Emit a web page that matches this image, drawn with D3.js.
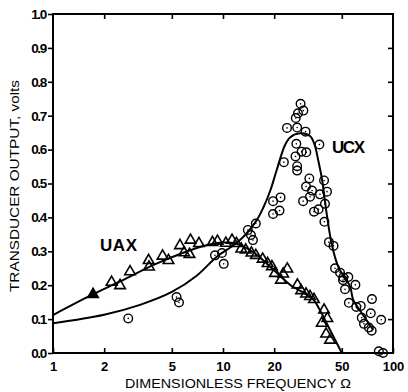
<!DOCTYPE html>
<html><head><meta charset="utf-8">
<script src="https://cdn.jsdelivr.net/npm/d3@7"></script>
<style>body{margin:0;background:#fff}svg{display:block}</style>
</head><body>
<script>
// ---- data ----
const xTicks = [1, 2, 5, 10, 20, 50, 100];
const xTickLabels = ["1", "2", "5", "10", "20", "50", "100"];
const yTicks = [0, 0.1, 0.2, 0.3, 0.4, 0.5, 0.6, 0.7, 0.8, 0.9, 1.0];
const yTickLabels = ["0.0","0.1","0.2","0.3","0.4","0.5","0.6","0.7","0.8","0.9","1.0"];

// UAX measured (triangles)
const uaxFilledOmega = [1.72];
const uaxFilledV = [0.173];
const uaxOmega = [2.21,2.48,2.84,3.65,3.67,4.41,4.78,5.58,5.90,6.35,6.44,7.22,8.67,9.28,10.4,11.3,12.0,12.8,13.6,14.7,15.6,17.1,18.3,19.4,20.2,21.9,23.9,22.6,27.4,28.8,30.8,32.5,34.3,39.3,38.1,41.1,40.4,42.6];
const uaxV = [0.209,0.199,0.240,0.273,0.254,0.286,0.273,0.317,0.296,0.291,0.333,0.323,0.326,0.330,0.324,0.333,0.323,0.307,0.304,0.295,0.288,0.277,0.264,0.255,0.235,0.215,0.248,0.233,0.201,0.184,0.174,0.167,0.158,0.127,0.088,0.102,0.056,0.038];

// UCX measured (circles)
const ucxOmega = [2.77,5.33,5.51,8.97,9.86,10.1,14.0,14.6,15.0,15.6,19.7,21.8,19.7,21.5,22.8,23.8,26.8,27.6,28.6,29.7,27.3,30.6,27.0,29.0,30.9,26.7,27.3,27.3,36.9,32.2,30.8,39.3,33.4,37.2,40.9,32.5,29.6,39.8,34.3,36.5,39.5,42.0,44.7,45.6,48.8,51.0,54.6,50.8,60.1,52.2,55.0,60.8,64.6,75.2,74.0,85.2,65.5,67.5,72.1,74.9,82.5,87.4];
const ucxV = [0.102,0.165,0.149,0.288,0.295,0.263,0.363,0.348,0.333,0.382,0.448,0.459,0.410,0.420,0.563,0.664,0.693,0.707,0.735,0.715,0.665,0.653,0.617,0.594,0.592,0.580,0.551,0.538,0.615,0.515,0.491,0.509,0.479,0.468,0.476,0.461,0.448,0.440,0.417,0.424,0.387,0.327,0.316,0.250,0.237,0.223,0.224,0.215,0.201,0.188,0.148,0.136,0.139,0.159,0.117,0.098,0.104,0.086,0.075,0.066,0.005,0.0];

// fitted curves
const uaxCurveOmega = [1,1.7,2.5,4,6,8,10,12,15,18,21.6,25,30,34,37,40.7,45,50];
const uaxCurveV = [0.112,0.172,0.212,0.262,0.298,0.318,0.326,0.322,0.298,0.265,0.228,0.2,0.177,0.158,0.128,0.088,0.045,0];
const ucxCurveOmega = [1,2,3.25,5,7,9.2,11.7,13.5,15.8,17.3,19,20.7,23.1,24.8,28.4,32.5,34.6,36.3,38.3,40.7,43.5,47.6,55.9,58.4,65,76.5];
const ucxCurveV = [0.088,0.113,0.142,0.18,0.228,0.284,0.32,0.348,0.392,0.43,0.48,0.54,0.612,0.636,0.648,0.64,0.614,0.569,0.51,0.412,0.324,0.255,0.196,0.156,0.12,0.068];

// ---- drawing ----
const W = 408, H = 392;
const svg = d3.select("body").append("svg").attr("width", W).attr("height", H);
const x = d3.scaleLog().domain([1, 100]).range([53, 393]);
const y = d3.scaleLinear().domain([0, 1]).range([353, 14]);
const font = "'Liberation Sans', Arial, sans-serif";

// frame
svg.append("rect").attr("x", x(1)).attr("y", y(1)).attr("width", x(100) - x(1)).attr("height", y(0) - y(1))
  .attr("fill", "none").attr("stroke", "#000").attr("stroke-width", 2);

// axes
const gBottom = svg.append("g").attr("transform", `translate(0,${y(0)})`)
  .call(d3.axisBottom(x).tickValues(xTicks).tickSize(-5).tickPadding(9).tickFormat((d, i) => xTickLabels[i]));
const gTop = svg.append("g").attr("transform", `translate(0,${y(1)})`)
  .call(d3.axisTop(x).tickValues(xTicks.slice(1, -1)).tickSize(-5).tickFormat(""));
const gLeft = svg.append("g").attr("transform", `translate(${x(1)},0)`)
  .call(d3.axisLeft(y).tickValues(yTicks).tickSize(5).tickPadding(2).tickFormat((d, i) => yTickLabels[i]));
const gRight = svg.append("g").attr("transform", `translate(${x(100)},0)`)
  .call(d3.axisRight(y).tickValues(yTicks.slice(1, -1)).tickSize(-5).tickFormat(""));
[gBottom, gTop, gLeft, gRight].forEach(g => {
  g.select(".domain").remove();
  g.selectAll("line").attr("stroke", "#000").attr("stroke-width", 1.6);
  g.selectAll("text").attr("fill", "#000").attr("font-family", font);
});
gBottom.selectAll("text").attr("font-size", 13).attr("font-weight", "bold");
gLeft.selectAll("text").attr("font-size", 13.5).attr("font-weight", "bold").attr("letter-spacing", -1.3);

// curves
const line = d3.line().x(d => x(d[0])).y(d => y(d[1])).curve(d3.curveCatmullRom.alpha(0.5));
svg.append("path").datum(uaxCurveOmega.map((o, i) => [o, uaxCurveV[i]]))
  .attr("d", line).attr("fill", "none").attr("stroke", "#000").attr("stroke-width", 2);
svg.append("path").datum(ucxCurveOmega.map((o, i) => [o, ucxCurveV[i]]))
  .attr("d", line).attr("fill", "none").attr("stroke", "#000").attr("stroke-width", 2);

// circles
const circ = svg.append("g");
ucxOmega.forEach((o, i) => {
  circ.append("circle").attr("cx", x(o)).attr("cy", y(ucxV[i])).attr("r", 4.3)
    .attr("fill", "none").attr("stroke", "#000").attr("stroke-width", 1.4);
  circ.append("circle").attr("cx", x(o)).attr("cy", y(ucxV[i])).attr("r", 0.8).attr("fill", "#000");
});

// triangles
const tri = d3.symbol().type(d3.symbolTriangle).size(48);
svg.append("g").selectAll("path").data(uaxOmega.map((o, i) => [o, uaxV[i]])).join("path")
  .attr("d", tri).attr("transform", d => `translate(${x(d[0])},${y(d[1])})`)
  .attr("fill", "none").attr("stroke", "#000").attr("stroke-width", 1.6);
svg.append("g").selectAll("path").data(uaxFilledOmega.map((o, i) => [o, uaxFilledV[i]])).join("path")
  .attr("d", tri).attr("transform", d => `translate(${x(d[0])},${y(d[1])})`)
  .attr("fill", "#000").attr("stroke", "#000").attr("stroke-width", 1.6);

// annotations
svg.append("text").attr("x", 100).attr("y", 251).text("UAX")
  .attr("font-family", font).attr("font-size", 17).attr("font-weight", "bold").attr("textLength", 37);
svg.append("text").attr("x", 332).attr("y", 153).text("UCX")
  .attr("font-family", font).attr("font-size", 17).attr("font-weight", "bold").attr("textLength", 33);

// axis titles
svg.append("text").attr("x", 125).attr("y", 388).text("DIMENSIONLESS  FREQUENCY  Ω")
  .attr("font-family", font).attr("font-size", 12.5).attr("textLength", 226).attr("lengthAdjust", "spacingAndGlyphs");
svg.append("text").attr("transform", "translate(19,292) rotate(-90)").text("TRANSDUCER  OUTPUT, volts")
  .attr("font-family", font).attr("font-size", 12.5).attr("textLength", 212).attr("lengthAdjust", "spacingAndGlyphs");
</script>
</body></html>
